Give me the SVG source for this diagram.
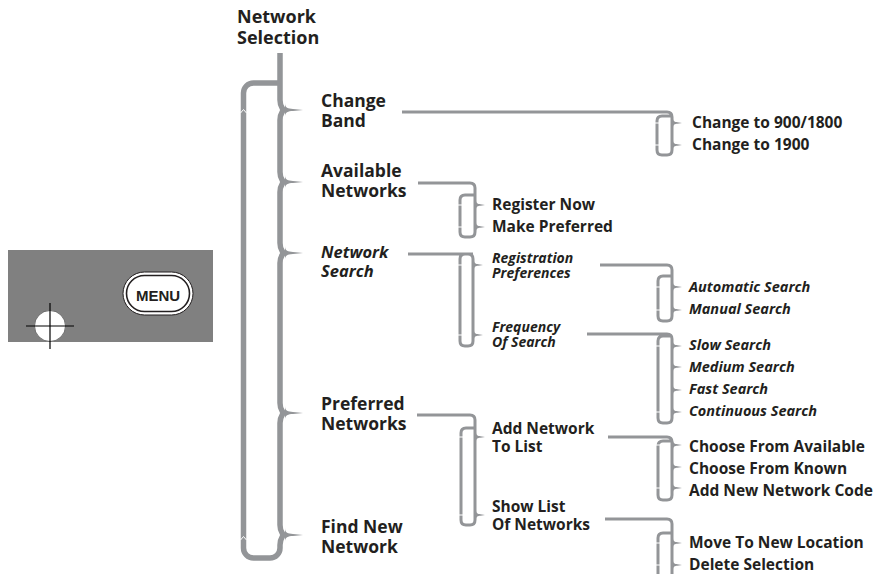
<svg xmlns="http://www.w3.org/2000/svg" xmlns:xlink="http://www.w3.org/1999/xlink" width="884" height="574" viewBox="0 0 884 574">
<style>
.ln{fill:none;stroke:#939598;stroke-width:3;stroke-linejoin:round}
.main{fill:none;stroke:#939598;stroke-width:5.5}
.tip{fill:#939598}
.nick{stroke:#fff;stroke-width:1;fill:none}
text{font-family:"Open Sans","Noto Sans","Liberation Sans",sans-serif;font-weight:700;fill:#231f20}
.t0{font-size:18px}
.t1{font-size:17.5px}
.t1i{font-size:16.5px;font-style:italic}
.t2{font-size:15.5px}
.t2i{font-size:14px;font-style:italic}
.t3{font-size:15.5px}
.t3i{font-size:14.5px;font-style:italic}
</style>
<defs>
<path id="tipM" d="M0 -7 C0 -2 3 -1.3 8 -1.1 L18 0 L8 1.1 C3 1.3 0 2 0 7 Z"/>
<path id="tipS" d="M0 -5 C0 -1.5 2 -1 4.5 -0.8 L9 0 L4.5 0.8 C2 1 0 1.5 0 5 Z"/>
</defs>

<g id="device">
<rect x="8" y="250" width="205" height="92" fill="#808080"/>
<rect x="123" y="272" width="70" height="43" rx="21.5" fill="#fff" stroke="#231f20" stroke-width="1"/>
<rect x="126.5" y="275.5" width="63" height="36" rx="18" fill="#fff" stroke="#231f20" stroke-width="1.6"/>
<text x="158" y="300.5" text-anchor="middle" style="font-family:'Liberation Sans',Arial,sans-serif;font-size:15px;font-weight:700">MENU</text>
<circle cx="50" cy="326" r="15.5" fill="#fff" stroke="#555" stroke-width="0.8"/>
<line x1="26" y1="326" x2="74" y2="326" stroke="#000" stroke-width="1.2"/>
<line x1="50" y1="303" x2="50" y2="349" stroke="#000" stroke-width="1.2"/>
</g>

<g id="connectors">
<path class="main" d="M280 53 V100 C280 107 283 108 283 110 C283 112 280 113 280 120 V172 C280 179 283 180 283 182 C283 184 280 185 280 192 V243 C280 250 283 251 283 253 C283 255 280 256 280 263 V403 C280 410 283 411 283 413 C283 415 280 416 280 423 V525 C280 532 283 533 283 535 C283 537 280 538 280 545 V548 A10 10 0 0 1 270 558 H253.5 A10 10 0 0 1 243.5 548 V93 A10 10 0 0 1 253.5 83 H280"/>
<g class="tip">
<use xlink:href="#tipM" x="285" y="110"/>
<use xlink:href="#tipM" x="285" y="182"/>
<use xlink:href="#tipM" x="285" y="253"/>
<use xlink:href="#tipM" x="285" y="413"/>
<use xlink:href="#tipM" x="285" y="535"/>
</g>
<polyline class="nick" points="240.5,113 243.5,109.5 246.5,113"/>
<polyline class="nick" points="240.5,540 243.5,536.5 246.5,540"/>

<path class="ln" d="M402 112 H667 Q672 112 672 117 V150 Q672 155 667 155 H662 Q657 155 657 150 V121 Q657 116 662 116 H672"/>
<path class="ln" d="M418 183 H470 Q475 183 475 188 V232 Q475 237 470 237 H465 Q460 237 460 232 V200 Q460 195 465 195 H475"/>
<path class="ln" d="M408 254 H468 Q473 254 473 259 V341 Q473 346 468 346 H465 Q460 346 460 341 V259 Q460 254 465 254 H473"/>
<path class="ln" d="M417 415 H470 Q475 415 475 420 V520 Q475 525 470 525 H466 Q461 525 461 520 V433 Q461 428 466 428 H475"/>
<path class="ln" d="M600 265 H667 Q672 265 672 270 V316 Q672 321 667 321 H663 Q658 321 658 316 V281 Q658 276 663 276 H672"/>
<path class="ln" d="M587 334 H667 Q672 334 672 339 V418 Q672 423 667 423 H663 Q658 423 658 418 V341 Q658 336 663 336 H672"/>
<path class="ln" d="M608 437 H667 Q672 437 672 442 V495 Q672 500 667 500 H663 Q658 500 658 495 V446 Q658 441 663 441 H672"/>
<path class="ln" d="M605 519 H667 Q672 519 672 524 V590 M672 590 H658 V538 Q658 533 663 533 H672"/>
<g class="tip">
<use xlink:href="#tipS" x="673" y="123"/>
<use xlink:href="#tipS" x="673" y="145"/>
<use xlink:href="#tipS" x="476" y="205"/>
<use xlink:href="#tipS" x="476" y="227"/>
<use xlink:href="#tipS" x="474" y="265"/>
<use xlink:href="#tipS" x="474" y="335"/>
<use xlink:href="#tipS" x="476" y="437"/>
<use xlink:href="#tipS" x="476" y="515"/>
<use xlink:href="#tipS" x="673" y="287"/>
<use xlink:href="#tipS" x="673" y="310"/>
<use xlink:href="#tipS" x="673" y="346"/>
<use xlink:href="#tipS" x="673" y="367"/>
<use xlink:href="#tipS" x="673" y="390"/>
<use xlink:href="#tipS" x="673" y="412"/>
<use xlink:href="#tipS" x="673" y="445"/>
<use xlink:href="#tipS" x="673" y="467"/>
<use xlink:href="#tipS" x="673" y="488"/>
<use xlink:href="#tipS" x="673" y="543"/>
<use xlink:href="#tipS" x="673" y="565"/>
</g>
<g class="nick">
<line x1="655" y1="123" x2="659" y2="123"/><line x1="655" y1="145" x2="659" y2="145"/>
<line x1="458" y1="205" x2="462" y2="205"/><line x1="458" y1="227" x2="462" y2="227"/>
<line x1="458" y1="265" x2="462" y2="265"/><line x1="458" y1="335" x2="462" y2="335"/>
<line x1="459" y1="437" x2="463" y2="437"/><line x1="459" y1="515" x2="463" y2="515"/>
<line x1="656" y1="287" x2="660" y2="287"/><line x1="656" y1="310" x2="660" y2="310"/>
<line x1="656" y1="346" x2="660" y2="346"/><line x1="656" y1="412" x2="660" y2="412"/>
<line x1="656" y1="445" x2="660" y2="445"/><line x1="656" y1="488" x2="660" y2="488"/>
<line x1="656" y1="543" x2="660" y2="543"/><line x1="656" y1="565" x2="660" y2="565"/>
</g>
</g>

<g id="n-network-selection"><text class="t0" x="237" y="23">Network<tspan x="237" dy="21">Selection</tspan></text></g>
<g id="n-change-band"><text class="t1" x="321" y="107">Change<tspan x="321" dy="20">Band</tspan></text></g>
<g id="n-available"><text class="t1" x="321" y="177">Available<tspan x="321" dy="20">Networks</tspan></text></g>
<g id="n-network-search"><text class="t1i" x="321" y="258">Network<tspan x="321" dy="19">Search</tspan></text></g>
<g id="n-preferred"><text class="t1" x="321" y="410">Preferred<tspan x="321" dy="20">Networks</tspan></text></g>
<g id="n-find-new"><text class="t1" x="321" y="533">Find New<tspan x="321" dy="20">Network</tspan></text></g>

<g id="n-900"><text class="t3" x="692" y="128">Change to 900/1800</text></g>
<g id="n-1900"><text class="t3" x="692" y="150">Change to 1900</text></g>
<g id="n-register"><text class="t2" x="492" y="210">Register Now</text></g>
<g id="n-make-pref"><text class="t2" x="492" y="232">Make Preferred</text></g>
<g id="n-reg-pref"><text class="t2i" x="492" y="263">Registration<tspan x="492" dy="15">Preferences</tspan></text></g>
<g id="n-freq"><text class="t2i" x="492" y="332">Frequency<tspan x="492" dy="15">Of Search</tspan></text></g>
<g id="n-auto"><text class="t3i" x="689" y="292">Automatic Search</text></g>
<g id="n-manual"><text class="t3i" x="689" y="314">Manual Search</text></g>
<g id="n-slow"><text class="t3i" x="689" y="350">Slow Search</text></g>
<g id="n-medium"><text class="t3i" x="689" y="372">Medium Search</text></g>
<g id="n-fast"><text class="t3i" x="689" y="394">Fast Search</text></g>
<g id="n-cont"><text class="t3i" x="689" y="416">Continuous Search</text></g>
<g id="n-add-net"><text class="t2" x="492" y="434">Add Network<tspan x="492" dy="18">To List</tspan></text></g>
<g id="n-show-list"><text class="t2" x="492" y="512">Show List<tspan x="492" dy="18">Of Networks</tspan></text></g>
<g id="n-avail"><text class="t3" x="689" y="452">Choose From Available</text></g>
<g id="n-known"><text class="t3" x="689" y="474">Choose From Known</text></g>
<g id="n-code"><text class="t3" x="689" y="496">Add New Network Code</text></g>
<g id="n-move"><text class="t3" x="689" y="548">Move To New Location</text></g>
<g id="n-delete"><text class="t3" x="689" y="570">Delete Selection</text></g>
</svg>
